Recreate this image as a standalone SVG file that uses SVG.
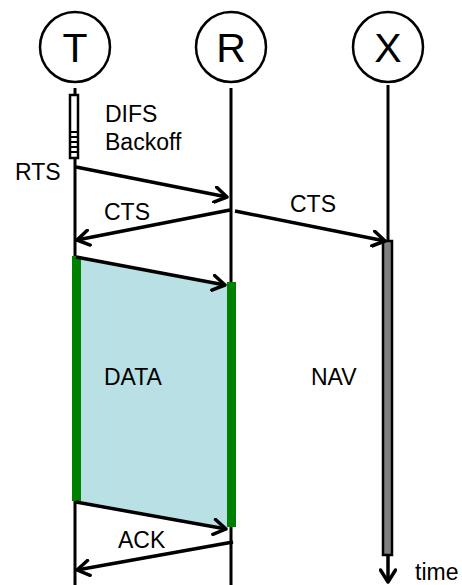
<svg xmlns="http://www.w3.org/2000/svg" width="462" height="585" viewBox="0 0 462 585">
  <style>
    .lbl { font-family: "Liberation Sans", Arial, sans-serif; fill: #000; }
    .node-letter { font-size: 41px; text-anchor: middle; }
    .msg { font-size: 23px; }
    .life { stroke: #000; stroke-width: 3; fill: none; }
    .arrow { stroke: #000; stroke-width: 3.5; fill: none; marker-end: url(#chev); }
    .circle { fill: #fff; stroke: #000; stroke-width: 2.5; }
  </style>
  <defs>
    <marker id="chev" viewBox="0 0 16 18" refX="14" refY="9" markerWidth="16" markerHeight="18" markerUnits="userSpaceOnUse" orient="auto">
      <path d="M2,1.5 L14,9 L2,16.5" fill="none" stroke="#000" stroke-width="3.5" stroke-linecap="round" stroke-linejoin="round"/>
    </marker>
  </defs>

  <!-- data exchange area between the two stations -->
  <polygon points="80,257 228,284 228,528 80,501" fill="#b9e0e4"/>

  <!-- stations with their time lines -->
  <g id="node-T">
    <circle class="circle" cx="75" cy="47" r="35"/>
    <text class="lbl node-letter" x="75" y="62">T</text>
    <line class="life" x1="75" y1="88" x2="75" y2="585"/>
    <rect x="70" y="95" width="8" height="63" fill="#fff" stroke="#000" stroke-width="2.5"/>
    <g stroke="#000" stroke-width="2">
      <line x1="70" y1="132" x2="78" y2="132"/>
      <line x1="70" y1="137" x2="78" y2="137"/>
      <line x1="70" y1="142" x2="78" y2="142"/>
      <line x1="70" y1="147" x2="78" y2="147"/>
      <line x1="70" y1="152" x2="78" y2="152"/>
    </g>
    <rect x="72" y="256" width="9" height="245" fill="#008000"/>
  </g>

  <g id="node-R">
    <circle class="circle" cx="231" cy="47" r="35"/>
    <text class="lbl node-letter" x="231" y="62">R</text>
    <line class="life" x1="231" y1="88" x2="231" y2="585"/>
    <rect x="227" y="282" width="9" height="245" fill="#008000"/>
  </g>

  <g id="node-X">
    <circle class="circle" cx="388" cy="47" r="35"/>
    <text class="lbl node-letter" x="388" y="62">X</text>
    <line class="life" x1="388" y1="85" x2="388" y2="242"/>
    <rect x="383" y="241" width="9" height="314" fill="#808080" stroke="#000" stroke-width="2.5"/>
  </g>

  <!-- messages -->
  <g id="connectors">
    <line class="arrow" x1="76" y1="167" x2="227" y2="197"/>
    <line class="arrow" x1="230" y1="210" x2="77" y2="240"/>
    <line class="arrow" x1="235" y1="211" x2="385" y2="241"/>
    <line class="arrow" x1="76" y1="257" x2="225" y2="285"/>
    <line class="arrow" x1="76" y1="502" x2="226" y2="529"/>
    <line class="arrow" x1="233" y1="542" x2="77" y2="570"/>
    <line class="arrow" x1="388" y1="555" x2="388" y2="582"/>
  </g>

  <!-- labels -->
  <g id="labels">
    <text class="lbl msg" x="105" y="122">DIFS</text>
    <text class="lbl msg" x="105" y="150">Backoff</text>
    <text class="lbl msg" x="15" y="180">RTS</text>
    <text class="lbl msg" x="104" y="220">CTS</text>
    <text class="lbl msg" x="290" y="212">CTS</text>
    <text class="lbl msg" x="104" y="385">DATA</text>
    <text class="lbl msg" x="311" y="385">NAV</text>
    <text class="lbl msg" x="118" y="548">ACK</text>
    <text class="lbl msg" x="415" y="580">time</text>
  </g>
</svg>
